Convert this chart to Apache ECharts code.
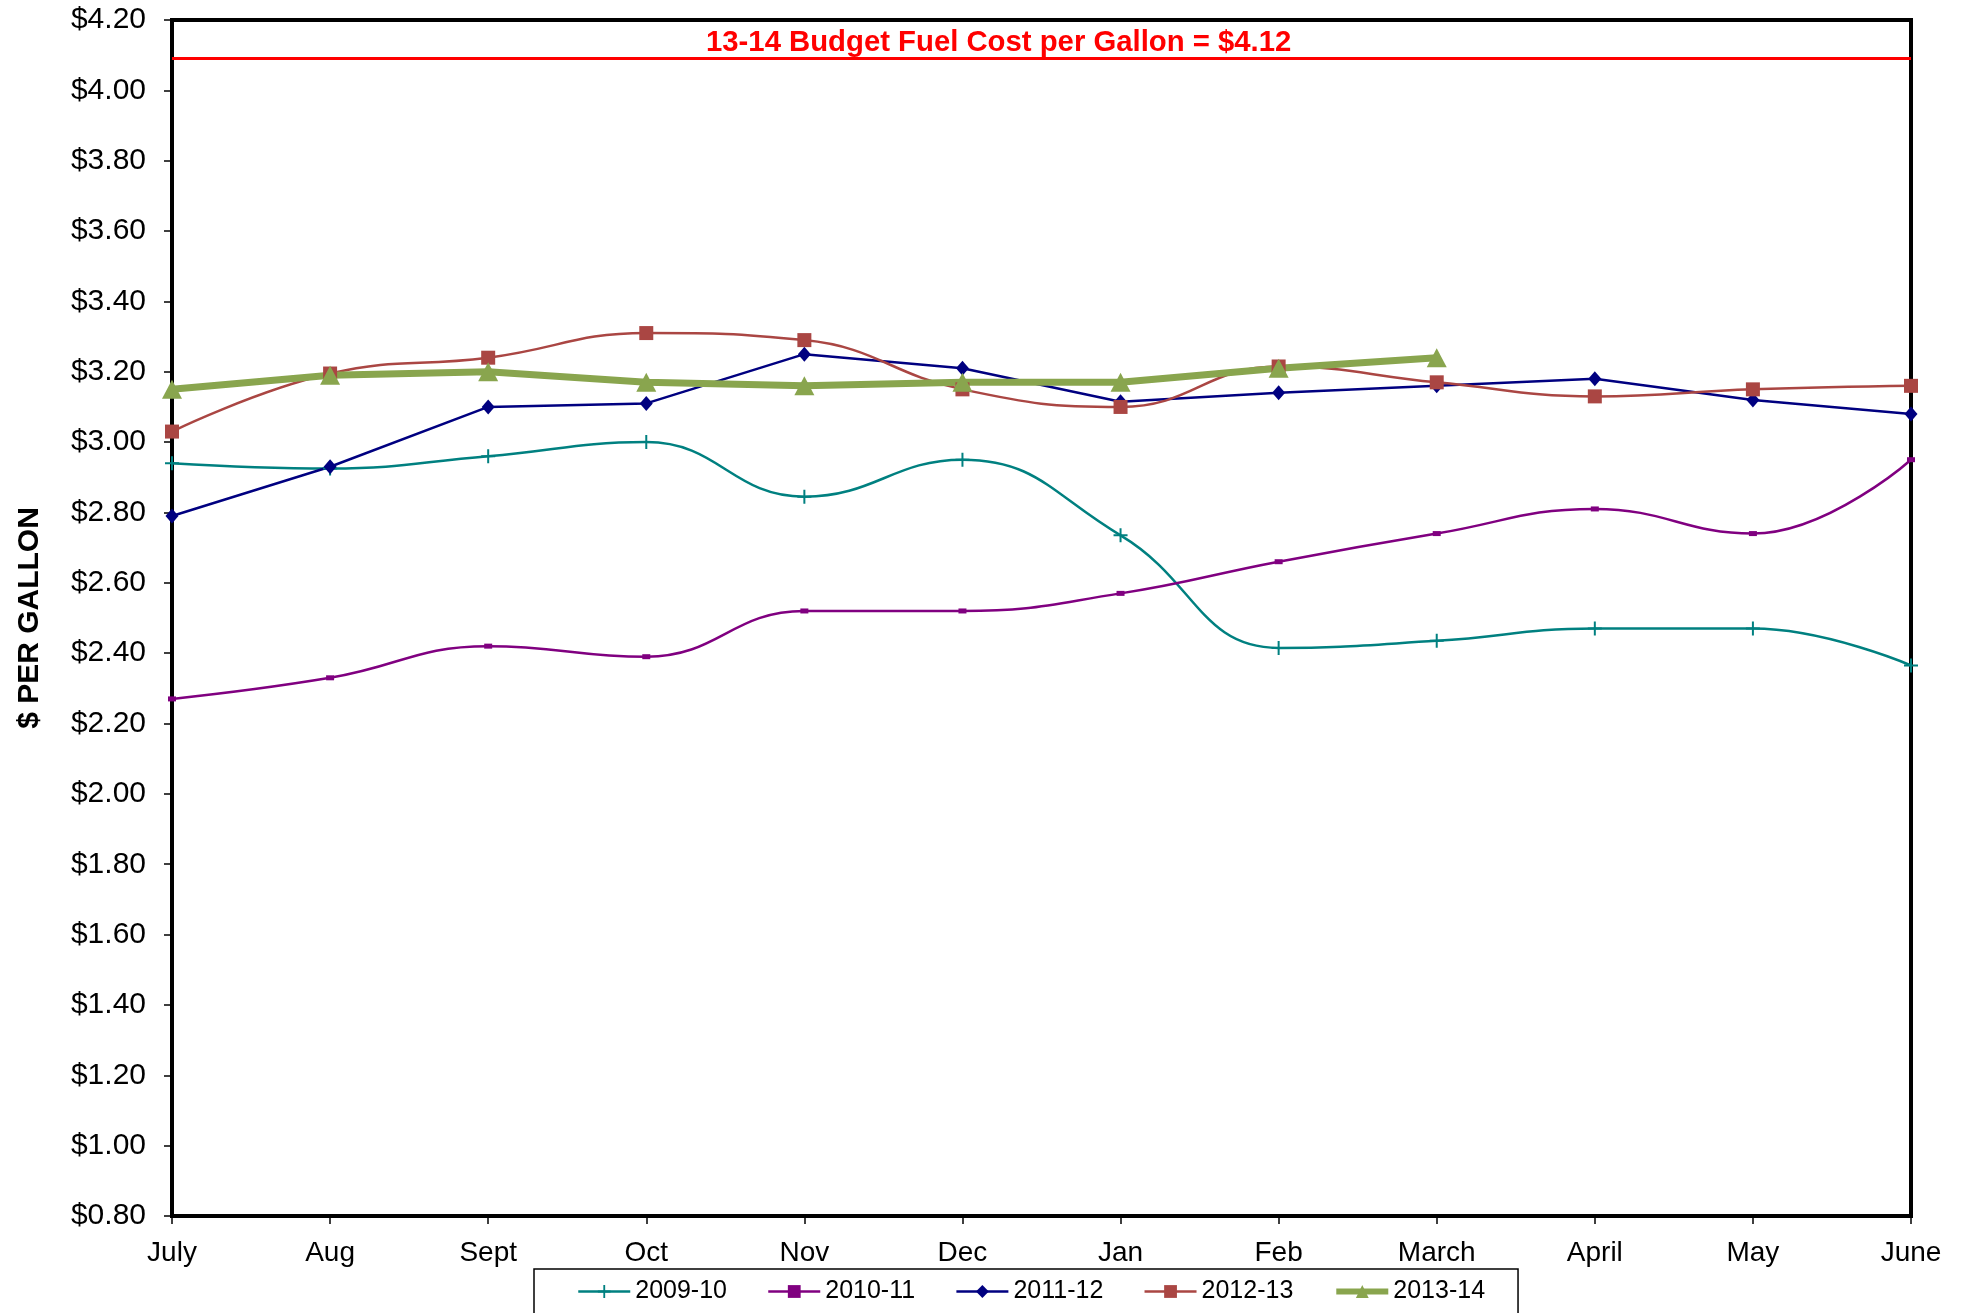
<!DOCTYPE html>
<html>
<head>
<meta charset="utf-8">
<script src="https://cdn.jsdelivr.net/npm/echarts@6/dist/echarts.min.js"></script>
<style>
  html, body { margin: 0; padding: 0; background: #fff; }
  #chart { width: 1965px; height: 1313px; }
</style>
</head>
<body>
<div id="chart"></div>
<script>
// Meses del año fiscal
var months = ['July', 'Aug', 'Sept', 'Oct', 'Nov', 'Dec', 'Jan', 'Feb', 'March', 'April', 'May', 'June'];

// Precio por galón de cada año
var fy0910 = [2.94, 2.925, 2.96, 3.00, 2.845, 2.95, 2.735, 2.415, 2.435, 2.47, 2.47, 2.365];
var fy1011 = [2.27, 2.33, 2.42, 2.39, 2.52, 2.52, 2.57, 2.66, 2.74, 2.81, 2.74, 2.95];
var fy1112 = [2.79, 2.93, 3.10, 3.11, 3.25, 3.21, 3.115, 3.14, 3.16, 3.18, 3.12, 3.08];
var fy1213 = [3.03, 3.195, 3.24, 3.31, 3.29, 3.15, 3.10, 3.215, 3.17, 3.13, 3.15, 3.16];
var fy1314 = [3.15, 3.19, 3.20, 3.17, 3.16, 3.17, 3.17, 3.21, 3.24];

// Línea de presupuesto
var budgetLine = 4.09;
var budgetText = '13-14 Budget Fuel Cost per Gallon = $4.12';

var font = 'Liberation Sans, Arial, sans-serif';
var plusPath = 'path://M0,6L14,6L14,8L0,8Z M6,0L8,0L8,14L6,14Z';

var chart = echarts.init(document.getElementById('chart'));

var option = {
    animation: false,
    backgroundColor: '#ffffff',
    title: {
        text: budgetText,
        left: 706,
        top: 28,
        padding: 0,
        textStyle: { color: '#ff0000', fontFamily: font, fontSize: 29.3, fontWeight: 'bold' }
    },
    legend: {
        left: 534,
        top: 1269,
        padding: [10, 33, 30, 43],
        itemGap: 40,
        itemWidth: 52,
        itemHeight: 16,
        borderColor: '#000',
        borderWidth: 1.5,
        textStyle: { color: '#000', fontFamily: font, fontSize: 25 },
        data: [
            { name: '2009-10', lineStyle: { width: 2.5 } },
            { name: '2010-11', lineStyle: { width: 2.5 } },
            { name: '2011-12', lineStyle: { width: 2.5 } },
            { name: '2012-13', lineStyle: { width: 2.5 } },
            { name: '2013-14', lineStyle: { width: 6 } }
        ]
    },
    grid: {
        left: 172,
        right: 54,
        top: 20,
        bottom: 97,
        show: true,
        borderColor: '#000',
        borderWidth: 4
    },
    xAxis: {
        type: 'category',
        data: months,
        boundaryGap: false,
        axisLine: { lineStyle: { color: '#000', width: 4 } },
        axisTick: { show: true, length: 8, lineStyle: { color: '#000', width: 1.5 } },
        axisLabel: { color: '#000', fontFamily: font, fontSize: 28, margin: 23 },
        splitLine: { show: false }
    },
    yAxis: {
        type: 'value',
        min: 0.8,
        max: 4.2,
        interval: 0.2,
        name: '$ PER GALLON',
        nameLocation: 'middle',
        nameGap: 127,
        nameTextStyle: { color: '#000', fontFamily: font, fontSize: 30, fontWeight: 'bold' },
        axisLine: { show: true, lineStyle: { color: '#000', width: 4 } },
        axisTick: { show: true, length: 8, lineStyle: { color: '#000', width: 1.5 } },
        axisLabel: {
            color: '#000', fontFamily: font, fontSize: 30, margin: 26,
            formatter: function (v) { return '$' + v.toFixed(2); }
        },
        splitLine: { show: false }
    },
    series: [
        {
            name: '2009-10', type: 'line', data: fy0910, smooth: 0.45,
            symbol: plusPath, symbolSize: 14,
            lineStyle: { color: '#008080', width: 2.5 },
            itemStyle: { color: '#008080' },
            markLine: {
                silent: true,
                symbol: 'none',
                label: { show: false },
                lineStyle: { color: '#ff0000', width: 3, type: 'solid' },
                data: [{ yAxis: budgetLine }]
            }
        },
        {
            name: '2010-11', type: 'line', data: fy1011, smooth: 0.45,
            symbol: 'rect', symbolSize: [8, 5],
            lineStyle: { color: '#800080', width: 2.5 },
            itemStyle: { color: '#800080' }
        },
        {
            name: '2011-12', type: 'line', data: fy1112,
            symbol: 'diamond', symbolSize: [13, 15],
            lineStyle: { color: '#000080', width: 2.5 },
            itemStyle: { color: '#000080' }
        },
        {
            name: '2012-13', type: 'line', data: fy1213, smooth: 0.45,
            symbol: 'rect', symbolSize: 14,
            lineStyle: { color: '#AA4643', width: 2.5 },
            itemStyle: { color: '#AA4643' }
        },
        {
            name: '2013-14', type: 'line', data: fy1314,
            symbol: 'triangle', symbolSize: [20, 19],
            lineStyle: { color: '#89A54E', width: 7 },
            itemStyle: { color: '#89A54E' }
        }
    ]
};

chart.setOption(option);
</script>
</body>
</html>
